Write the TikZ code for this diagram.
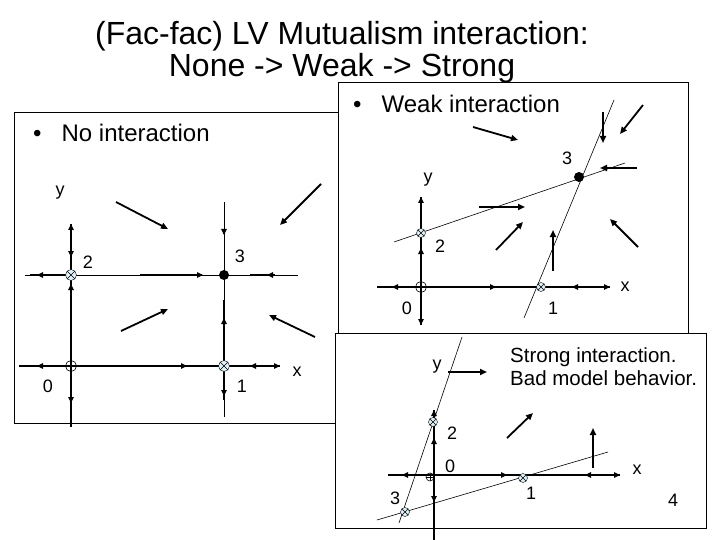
\documentclass[tikz,border=0pt]{standalone}
\usepackage{fontspec}
\setmainfont{Liberation Sans}
\usetikzlibrary{arrows.meta}
\tikzset{
  ax/.style={line width=1.6pt},
  thin/.style={line width=0.6pt},
  fa/.style={line width=1.8pt,-{Triangle[length=7pt,width=6pt]}},
  hd/.style={line width=1.6pt,-{Triangle[length=6pt,width=5.5pt]}},
  box/.style={draw,line width=0.8pt,fill=white},
  lab/.style={font=\fontsize{18}{20}\selectfont,inner sep=0pt},
  unst/.style={circle,draw,fill=gray!35!cyan!15,minimum size=11pt,inner sep=0pt,path picture={\draw[line width=0.5pt] (path picture bounding box.north west)--(path picture bounding box.south east) (path picture bounding box.north east)--(path picture bounding box.south west);}},
  orig/.style={circle,draw,line width=0.6pt,minimum size=11pt,inner sep=0pt,path picture={\draw[line width=0.5pt] (path picture bounding box.north)--(path picture bounding box.south) (path picture bounding box.east)--(path picture bounding box.west);}},
  stab/.style={circle,fill=black,minimum size=10pt,inner sep=0pt},
  big/.style={font=\fontsize{24}{28}\selectfont,inner sep=0pt,anchor=west},
}
\newcommand{\hr}[2]{\draw[hd] (#1-1,#2) -- (#1,#2);}
\newcommand{\hl}[2]{\draw[hd] (#1+1,#2) -- (#1,#2);}
\newcommand{\vu}[2]{\draw[hd] (#1,#2+1) -- (#1,#2);}
\newcommand{\vd}[2]{\draw[hd] (#1,#2-1) -- (#1,#2);}
\begin{document}
\begin{tikzpicture}[x=1pt,y=-1pt]
\useasboundingbox (0,0) rectangle (720,540);
\fill[white] (0,0) rectangle (720,540);
% title
\node[font=\fontsize{32}{32}\selectfont,align=center] (title) at (342,52) {(Fac-fac) LV Mutualism interaction:\\None -> Weak -> Strong};
% ---------- panel 1
\draw[box] (14,112) rectangle (340,423);
\node[big] (t1) at (33,133) {•\hspace{20pt}No interaction};
\draw[ax] (19,366) -- (280,366);
\draw[ax] (71,224) -- (71,427);
\draw[thin] (25,275) -- (298,275);
\draw[thin] (224,202) -- (224,417);
\draw[ax] (140,275) -- (200,275);
\draw[ax] (224,300) -- (224,366) -- (224,400);
\draw[ax] (71,275) -- (71,366);
\draw[ax] (30,275) -- (71,275);
\draw[ax] (250,275) -- (275,275);
\hl{37}{366} \hr{187}{366} \hl{250}{366} \hr{280}{366}
\vu{71}{224} \vd{71}{257} \vu{71}{284} \vd{71}{403}
\hl{37}{275} \hr{203}{275} \hl{267}{275}
\vd{224}{235} \vu{224}{318} \vd{224}{396}
\node[orig] (p0a) at (71,366) {};
\node[unst] (p2a) at (71,275) {};
\node[stab] (p3a) at (224,275) {};
\node[unst] (p1a) at (224,366) {};
\node[lab] at (48,386) {0};
\node[lab] at (88,262) {2};
\node[lab] at (240,256) {3};
\node[lab] at (242,386) {1};
\node[lab] at (297,372) {x};
\node[lab] at (60,193) {y};
\draw[fa] (116,202) -- (168,229);
\draw[fa] (321,184) -- (280,225);
\draw[fa] (121,331) -- (168,309);
\draw[fa] (315,337) -- (269,315);
% ---------- panel 2
\draw[box] (338,82) rectangle (688,333);
\node[big] (t2) at (353,104) {•\hspace{20pt}Weak interaction};
\draw[ax] (377,287) -- (610,287);
\draw[ax] (421,197) -- (421,325);
\hl{392}{287} \hr{496}{287} \hl{572}{287} \hr{610}{287}
\vu{421}{197} \vu{421}{248} \vd{421}{325}
\draw[thin] (394,242) -- (625,163);
\draw[thin] (524,318) -- (614,100);
\node[orig] (p0b) at (421,287) {};
\node[unst,minimum size=9pt] (p2b) at (421,233) {};
\node[stab] (p3b) at (579,177) {};
\node[unst,minimum size=9pt] (p1b) at (541,287) {};
\node[lab] at (407,308) {0};
\node[lab] at (440,246) {2};
\node[lab] at (567,158) {3};
\node[lab] at (553,308) {1};
\node[lab] at (625,287) {x};
\node[lab] at (428,180) {y};
\draw[fa] (473,127) -- (518,140);
\draw[fa] (603,112) -- (603,143);
\draw[fa] (643,105) -- (620,134);
\draw[fa] (637,168) -- (600,168);
\draw[fa] (479,207) -- (525,207);
\draw[fa] (496,250) -- (523,222);
\draw[fa] (553,271) -- (553,230);
\draw[fa] (638,247) -- (610,219);
% ---------- panel 3
\draw[box] (335,333) rectangle (706,528);
\draw[ax] (388,475) -- (620,475);
\draw[ax] (434,410) -- (434,540);
\hl{402}{475} \hr{507}{475} \hl{585}{475} \hr{620}{475}
\vu{434}{410} \vu{434}{438} \vd{434}{502}
\draw[thin] (399,523) -- (462,337);
\draw[thin] (377,520) -- (608,452);
\node[orig,minimum size=8pt] (p0c) at (430,477) {};
\node[unst,minimum size=9pt] (p2c) at (433,422) {};
\node[unst,minimum size=9pt] (p3c) at (405,512) {};
\node[unst,minimum size=9pt] (p1c) at (523,478) {};
\node[lab] at (450,466) {0};
\node[lab] at (452,433) {2};
\node[lab] at (395,498) {3};
\node[lab] at (531,493) {1};
\node[lab] at (637,470) {x};
\node[lab] at (437,367) {y};
\node[lab] at (673,500) {4};
\draw[fa] (448,372) -- (487,372);
\draw[fa] (507,438) -- (533,413);
\draw[fa] (593,468) -- (593,428);
\node[font=\fontsize{20.5}{23}\selectfont,align=left,anchor=north west,inner sep=0pt] (t3) at (510,347) {Strong interaction.\\Bad model behavior.};
\end{tikzpicture}
\end{document}
